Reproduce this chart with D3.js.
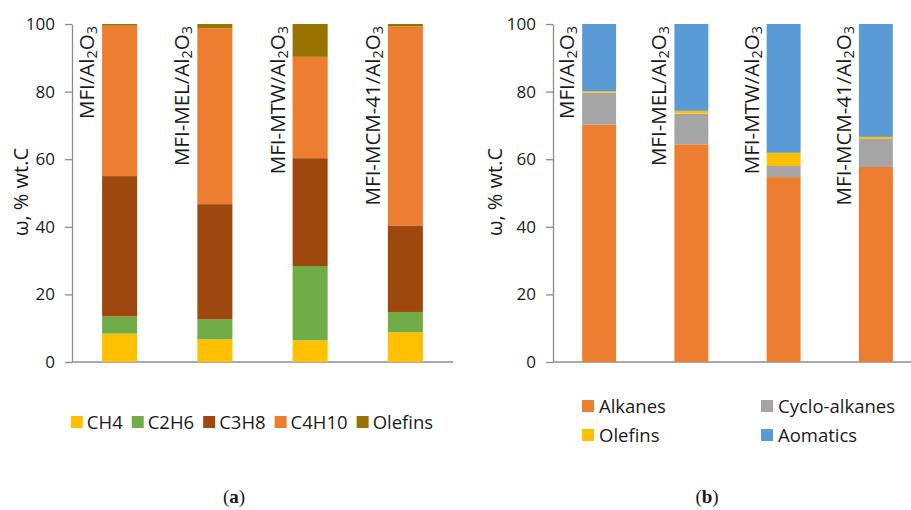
<!DOCTYPE html>
<html>
<head>
<meta charset="utf-8">
<script src="https://cdn.jsdelivr.net/npm/d3@7"></script>
<style>
  html, body { margin: 0; padding: 0; background: #fff; }
  svg { display: block; }
  text { font-family: "Open Sans", "Noto Sans", sans-serif; fill: #1a1a1a; }
</style>
</head>
<body>
<svg id="chart" width="911" height="510"></svg>
<script>
// Catalysts (all supported on Al2O3)
const catalysts = ["MFI", "MFI-MEL", "MFI-MTW", "MFI-MCM-41"];
const yTicks = [0, 20, 40, 60, 80, 100];

// (a) gas composition, % wt.C
const seriesA = ["CH4", "C2H6", "C3H8", "C4H10", "Olefins"];
const ch4     = [8.4, 6.7, 6.4, 8.8];
const c2h6    = [5.1, 5.9, 22.0, 6.0];
const c3h8    = [41.5, 34.1, 31.9, 25.6];
const c4h10   = [44.5, 52.0, 30.0, 58.9];
const olefinsA = [0.5, 1.3, 9.7, 0.7];
const colorsA = ["#FFC000", "#70AD47", "#9E480E", "#ED7D31", "#997300"];

// (b) liquid composition, % wt.C
const seriesB = ["Alkanes", "Cyclo-alkanes", "Olefins", "Aomatics"];
const alkanes   = [70.2, 64.4, 54.7, 57.7];
const cyclo     = [9.5, 9.1, 3.3, 8.3];
const olefinsB  = [0.4, 0.8, 3.9, 0.6];
const aromatics = [19.9, 25.7, 38.1, 33.4];
const colorsB = ["#ED7D31", "#A5A5A5", "#FFC000", "#5B9BD5"];

const svg = d3.select("#chart");
const axisColor = "#8c8c8c";

function buildRows(keys, cols) {
  return catalysts.map((c, i) => {
    const row = { cat: c };
    keys.forEach((k, j) => row[k] = cols[j][i]);
    return row;
  });
}

function drawPanel(opt) {
  const g = svg.append("g");
  const x = d3.scaleBand().domain(catalysts).range([opt.x0, opt.x1])
    .paddingInner(0.632).paddingOuter(0.316);
  const y = d3.scaleLinear().domain([0, 100]).range([362, 24]);

  // y axis
  const ax = g.append("g").attr("transform", `translate(${opt.x0},0)`)
    .call(d3.axisLeft(y).tickValues(yTicks).tickSize(7).tickSizeOuter(0).tickPadding(10));
  ax.selectAll("path,line").attr("stroke", axisColor).attr("stroke-width", 1.3);
  ax.selectAll("text").style("font-size", "17px").attr("fill", "#1a1a1a")
    .style("font-family", "'Open Sans', sans-serif");

  // baseline
  g.append("line").attr("x1", opt.x0).attr("x2", opt.x1)
    .attr("y1", y(0)).attr("y2", y(0))
    .attr("stroke", axisColor).attr("stroke-width", 1.3);

  // stacked bars
  const rows = buildRows(opt.keys, opt.cols);
  const stacked = d3.stack().keys(opt.keys)(rows);
  g.append("g").selectAll("g").data(stacked).join("g")
    .attr("fill", (d, i) => opt.colors[i])
    .selectAll("rect").data(d => d).join("rect")
    .attr("x", d => x(d.data.cat))
    .attr("width", x.bandwidth())
    .attr("y", d => y(d[1]))
    .attr("height", d => y(d[0]) - y(d[1]));

  // rotated category labels with Al2O3 subscripts
  catalysts.forEach(c => {
    const bx = x(c) - 8, by = 26;
    const t = g.append("text")
      .attr("transform", `translate(${bx},${by}) rotate(-90)`)
      .attr("text-anchor", "end")
      .style("font-size", "20.5px");
    t.append("tspan").text(c + "/Al");
    t.append("tspan").attr("baseline-shift", "-22%").style("font-size", "14.5px").text("2");
    t.append("tspan").text("O");
    t.append("tspan").attr("baseline-shift", "-22%").style("font-size", "14.5px").text("3");
  });

  // y title
  g.append("text")
    .attr("transform", `translate(${opt.titleX},192) rotate(-90)`)
    .attr("text-anchor", "middle")
    .style("font-size", "20px")
    .text("ω, % wt.C");

  // panel caption
  const cap = g.append("text").attr("x", opt.capX).attr("y", 503)
    .attr("text-anchor", "middle")
    .style("font-family", "'Liberation Serif', 'DejaVu Serif', serif")
    .style("font-size", "19px");
  cap.append("tspan").text("(");
  cap.append("tspan").style("font-weight", "bold").text(opt.capLetter);
  cap.append("tspan").text(")");
  return g;
}

drawPanel({
  x0: 72, x1: 453, keys: seriesA,
  cols: [ch4, c2h6, c3h8, c4h10, olefinsA], colors: colorsA,
  titleX: 28, capX: 234, capLetter: "a"
});
drawPanel({
  x0: 553, x1: 922, keys: seriesB,
  cols: [alkanes, cyclo, olefinsB, aromatics], colors: colorsB,
  titleX: 502, capX: 707, capLetter: "b"
});

// legend (a): single row, centred under panel
const legA = svg.append("g");
let cx = 0;
seriesA.forEach((name, i) => {
  const it = legA.append("g").attr("transform", `translate(${cx},0)`);
  it.append("rect").attr("x", 0).attr("y", -6).attr("width", 12).attr("height", 12).attr("fill", colorsA[i]);
  const tx = it.append("text").attr("x", 16).attr("y", 6.5).style("font-size", "18.5px").text(name);
  cx += 16 + tx.node().getComputedTextLength() + 9;
});
legA.attr("transform", `translate(${252 - (cx - 9) / 2},422)`);

// legend (b): two columns x two rows
const posB = [[582, 406], [761, 406], [582, 435], [761, 435]];
seriesB.forEach((name, i) => {
  const it = svg.append("g").attr("transform", `translate(${posB[i][0]},${posB[i][1]})`);
  it.append("rect").attr("x", 0).attr("y", -6).attr("width", 12).attr("height", 12).attr("fill", colorsB[i]);
  it.append("text").attr("x", 17).attr("y", 6.5).style("font-size", "18.5px").text(name);
});
</script>
</body>
</html>
